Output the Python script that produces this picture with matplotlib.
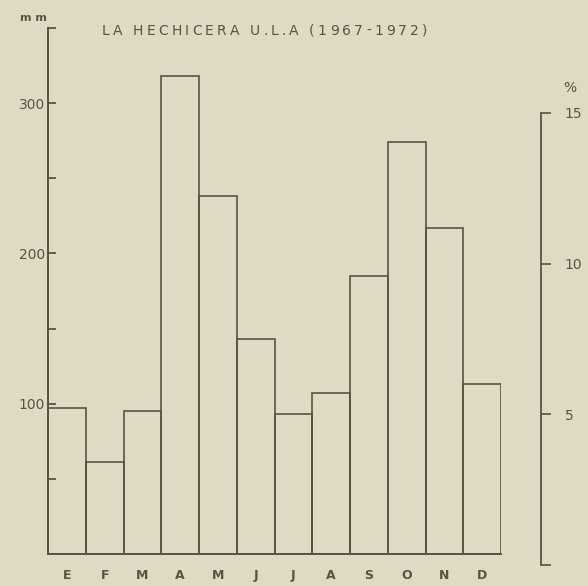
import matplotlib
matplotlib.use("Agg")
import matplotlib.pyplot as plt

# ==== Datos ====
meses = ["E", "F", "M", "A", "M", "J", "J", "A", "S", "O", "N", "D"]
lluvia_mm = [97, 61, 95, 318, 238, 143, 93, 107, 185, 274, 217, 113]
ticks_mm = [50, 100, 150, 200, 250, 300, 350]
etiquetas_mm = ["", "100", "", "200", "", "300", ""]
ticks_pct = [0, 5, 10, 15]
etiquetas_pct = ["", "5", "10", "15"]
titulo = "LA HECHICERA U.L.A (1967-1972)"

fondo = "#dfdac3"
tinta = "#5b5243"

W, H = 588, 586
fig = plt.figure(figsize=(W / 100, H / 100), dpi=100, facecolor=fondo)

# ==== Eje principal (mm) ====
x0, x1 = 48, 501
y0, y1 = 554, 28
ax = fig.add_axes([x0 / W, (H - y0) / H, (x1 - x0) / W, (y0 - y1) / H])
ax.set_facecolor("none")
pos = list(range(len(meses)))
ax.bar(pos, lluvia_mm, width=1.0, align="edge", fill=False,
       edgecolor=tinta, linewidth=1.2)
ax.set_xlim(0, 12)
ax.set_ylim(0, 350)
for lado in ["top", "right"]:
    ax.spines[lado].set_visible(False)
for lado in ["left", "bottom"]:
    ax.spines[lado].set_color(tinta)
    ax.spines[lado].set_linewidth(1.4)
ax.set_yticks(ticks_mm)
ax.set_yticklabels(etiquetas_mm)
ax.tick_params(axis="y", direction="in", length=6, width=1.3, color=tinta,
               labelcolor=tinta, labelsize=10, pad=2)
ax.set_xticks([p + 0.5 for p in pos])
ax.set_xticklabels(meses)
ax.tick_params(axis="x", length=0, labelcolor=tinta, labelsize=9, pad=11)
for t in ax.get_xticklabels():
    t.set_fontweight("bold")

# ==== Eje derecho (%) ====
xr = 541
yr0, yr1 = 565, 113
ax2 = fig.add_axes([(xr - 20) / W, (H - yr0) / H, 20 / W, (yr0 - yr1) / H])
ax2.set_facecolor("none")
ax2.set_xlim(0, 1)
ax2.set_ylim(0, 15)
for lado in ["top", "left", "bottom"]:
    ax2.spines[lado].set_visible(False)
ax2.spines["right"].set_color(tinta)
ax2.spines["right"].set_linewidth(1.3)
ax2.set_xticks([])
ax2.yaxis.tick_right()
ax2.set_yticks(ticks_pct)
ax2.set_yticklabels(etiquetas_pct)
ax2.tick_params(axis="y", direction="out", length=7, width=1.2, color=tinta,
                labelcolor=tinta, labelsize=10, pad=10)

# ==== Textos ====
fig.text(20 / W, 1 - 18 / H, "m m", color=tinta, fontsize=8, fontweight="bold",
         ha="left", va="center")
fig.text(563 / W, 1 - 88 / H, "%", color=tinta, fontsize=10, ha="left", va="center")

# titulo con letras espaciadas (rotulado a plantilla)
renderer = fig.canvas.get_renderer()
xpos = 102
espacio = 3.2
for c in titulo:
    t = fig.text(xpos / W, 1 - 31 / H, c, color=tinta, fontsize=10,
                 ha="left", va="center")
    ancho = t.get_window_extent(renderer).width if c != " " else 4
    xpos += ancho + espacio

fig.savefig("out.png", dpi=100, facecolor=fondo)
